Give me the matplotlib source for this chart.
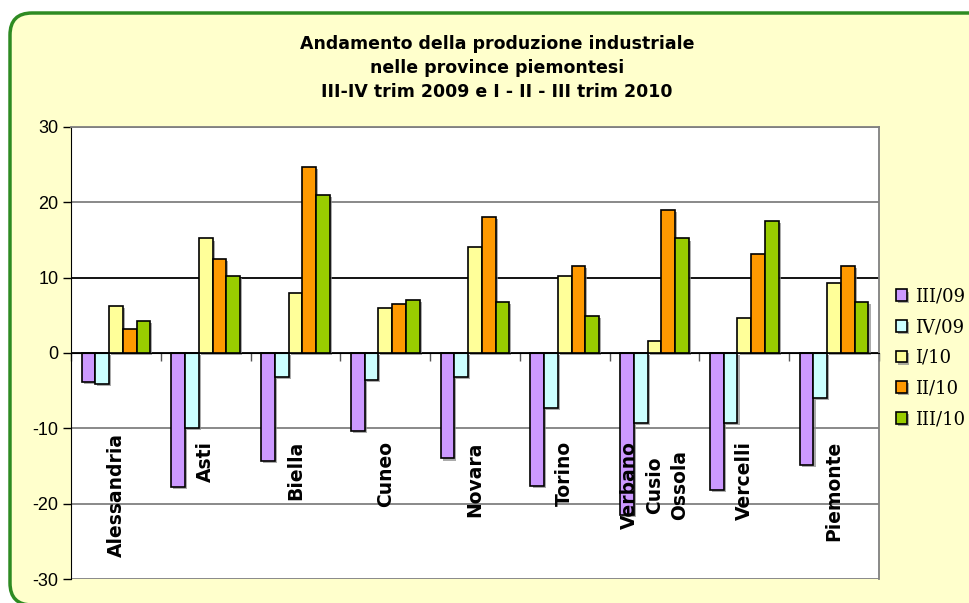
import numpy as np
import matplotlib
matplotlib.use("Agg")
import matplotlib.pyplot as plt
import matplotlib.patches as mpatches
import matplotlib.patheffects as pe

plt.rcParams["axes.unicode_minus"] = False

# dati: variazioni % produzione industriale
province = ["Alessandria", "Asti", "Biella", "Cuneo", "Novara", "Torino",
            "Verbano\nCusio\nOssola", "Vercelli", "Piemonte"]
serie = ["III/09", "IV/09", "I/10", "II/10", "III/10"]
III_09 = [-3.9, -17.8, -14.3, -10.4, -14.0, -17.7, -21.5, -18.2, -14.9]
IV_09 = [-4.1, -10.0, -3.2, -3.6, -3.2, -7.3, -9.3, -9.3, -6.0]
I_10 = [6.2, 15.2, 7.9, 6.0, 14.1, 10.2, 1.6, 4.7, 9.3]
II_10 = [3.2, 12.5, 24.7, 6.5, 18.1, 11.6, 19.0, 13.1, 11.6]
III_10 = [4.2, 10.2, 21.0, 7.0, 6.8, 4.9, 15.2, 17.5, 6.8]
valori = [III_09, IV_09, I_10, II_10, III_10]
colori = ["#CC99FF", "#CCFFFF", "#FFFF99", "#FF9900", "#99CC00"]

fig = plt.figure(figsize=(9.69, 6.03), dpi=100, facecolor="white")

# cornice verde arrotondata
cornice = mpatches.FancyBboxPatch((10, -2), 1000, 592,
                                  boxstyle="round,pad=0,rounding_size=22",
                                  facecolor="#FFFFCC", edgecolor="#2E8B22",
                                  linewidth=2.5, transform=None, zorder=0)
fig.add_artist(cornice)

ax = fig.add_axes([0.0733, 0.0398, 0.8338, 0.7496])
ax.set_facecolor("white")
ax.set_zorder(1)

n = len(province)
x = np.arange(n)
w = 0.153
ombra = [pe.SimplePatchShadow(offset=(1.5, -1.5), shadow_rgbFace="#888888", alpha=0.7), pe.Normal()]
for i, (nome, v, c) in enumerate(zip(serie, valori, colori)):
    barre = ax.bar(x + (i - 2) * w, v, w, color=c, edgecolor="black", linewidth=1.2,
                   label=nome, zorder=3)
    for b in barre:
        b.set_path_effects(ombra)

ax.set_xlim(-0.5, n - 0.5)
ax.set_ylim(-30, 30)
ax.set_yticks(np.arange(-30, 31, 10))
ax.tick_params(axis="y", direction="out", length=6, width=1, labelsize=13, pad=3)
for t in ax.get_yticklabels():
    t.set_fontfamily("Liberation Sans")

# griglia
for yv in np.arange(-30, 31, 10):
    col = "black" if yv in (0, 10) else "#808080"
    ax.axhline(yv, color=col, linewidth=1.3, zorder=1)

ax.spines["bottom"].set_position(("data", 0))
ax.spines["bottom"].set_color("black")
ax.spines["bottom"].set_zorder(4)
ax.spines["left"].set_color("black")
ax.spines["right"].set_color("#808080")
ax.spines["top"].set_color("#808080")
ax.spines["right"].set_linewidth(1.3)
ax.spines["top"].set_linewidth(1.3)
ax.set_xticks(np.arange(-0.5, n, 1.0))
ax.set_xticklabels([])
ax.tick_params(axis="x", direction="out", length=6, width=1, color="#555555")

# etichette delle province, ruotate
for i, p in enumerate(province):
    y0 = -10.6 if i == 0 else -11.7
    ax.text(x[i], y0, p, rotation=90, ha="center", va="top", fontsize=13.5,
            fontweight="bold", family="DejaVu Sans", multialignment="center",
            linespacing=1.4, zorder=5)

fig.text(0.513, 0.887, "Andamento della produzione industriale\nnelle province piemontesi\n"
         "III-IV trim 2009 e I - II - III trim 2010", ha="center", va="center",
         fontsize=12.5, fontweight="bold", family="DejaVu Sans", linespacing=1.45)

leg = ax.legend(loc="center left", bbox_to_anchor=(1.012, 0.489), frameon=False,
                prop={"family": "DejaVu Serif", "size": 13},
                handlelength=0.62, handleheight=0.62, handletextpad=0.45,
                labelspacing=0.7, borderaxespad=0)

fig.savefig("out.png", dpi=100, facecolor=fig.get_facecolor())
